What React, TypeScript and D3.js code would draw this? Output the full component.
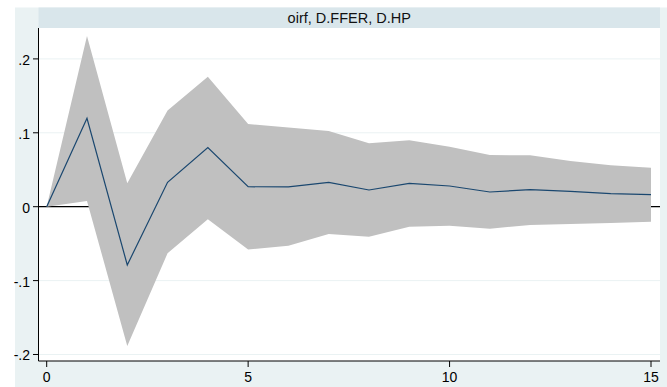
import React from 'react';
import * as d3 from 'd3';

// impulse response: oirf, D.FFER -> D.HP, with 95% CI
const steps = [0, 1, 2, 3, 4, 5, 6, 7, 8, 9, 10, 11, 12, 13, 14, 15];
const oirf = [0, 0.1196, -0.0789, 0.033, 0.08, 0.027, 0.0267, 0.033, 0.0226, 0.0316, 0.028, 0.0199, 0.023, 0.0208, 0.0176, 0.0162];
const upper = [0, 0.231, 0.0316, 0.13, 0.176, 0.112, 0.107, 0.1024, 0.0858, 0.0898, 0.0812, 0.07, 0.0695, 0.0618, 0.056, 0.0528];
const lower = [0, 0.0077, -0.1885, -0.063, -0.017, -0.058, -0.053, -0.037, -0.0406, -0.027, -0.0257, -0.0298, -0.0248, -0.0234, -0.022, -0.0203];

const yTicks = [0.2, 0.1, 0, -0.1, -0.2];
const yTickLabels = ['.2', '.1', '0', '-.1', '-.2'];
const xTicks = [0, 5, 10, 15];
const title = 'oirf, D.FFER, D.HP';

const W = 667;
const H = 387;
const plot = { left: 38.5, right: 660, top: 28, bottom: 361 };
const font = '"Liberation Sans", Arial, Helvetica, sans-serif';

const App: React.FC = () => {
  const x = d3.scaleLinear().domain([0, 15]).range([46.7, 651]);
  const y = d3.scaleLinear().domain([-0.2088, 0.2418]).range([plot.bottom, plot.top]);

  const rows = steps.map((s, i) => ({ s, v: oirf[i], lo: lower[i], hi: upper[i] }));

  const band = d3.area<typeof rows[0]>()
    .x(d => x(d.s))
    .y0(d => y(d.lo))
    .y1(d => y(d.hi));

  const line = d3.line<typeof rows[0]>()
    .x(d => x(d.s))
    .y(d => y(d.v));

  return (
    <svg width={W} height={H} style={{ position: 'absolute', left: 0, top: 0, display: 'block' }}>
      <rect x={0} y={0} width={W} height={H} fill="#ffffff" />
      {/* graph region */}
      <rect x={15} y={7.5} width={W - 15} height={H - 7.5} fill="#eaf2f3" />
      {/* plot region */}
      <rect x={plot.left} y={plot.top} width={plot.right - plot.left} height={plot.bottom - plot.top} fill="#ffffff" />
      {/* title band */}
      <rect x={plot.left} y={7.5} width={plot.right - plot.left} height={plot.top - 7.5} fill="#d9e6eb" />
      <text x={(plot.left + plot.right) / 2} y={22.7} textAnchor="middle" fontFamily={font} fontSize={14.5} fill="#111">
        {title}
      </text>

      {/* grid */}
      {yTicks.map(t => (
        <line key={'g' + t} x1={plot.left} x2={plot.right} y1={y(t)} y2={y(t)} stroke="#eaf2f3" strokeWidth={1} />
      ))}

      {/* zero reference line */}
      <line x1={plot.left} x2={plot.right} y1={y(0)} y2={y(0)} stroke="#000" strokeWidth={1.2} />

      {/* confidence band */}
      <path d={band(rows) || ''} fill="#c0c0c0" />
      {/* irf */}
      <path d={line(rows) || ''} fill="none" stroke="#1a476f" strokeWidth={1.2} />

      {/* axes */}
      <line x1={plot.left} x2={plot.left} y1={plot.top} y2={plot.bottom} stroke="#000" strokeWidth={1} />
      <line x1={plot.left} x2={plot.right} y1={plot.bottom} y2={plot.bottom} stroke="#000" strokeWidth={1} />

      {yTicks.map((t, i) => (
        <g key={'y' + t}>
          <line x1={plot.left - 5.5} x2={plot.left} y1={y(t)} y2={y(t)} stroke="#000" strokeWidth={1} />
          <text x={30} y={y(t) + 6} textAnchor="end" fontFamily={font} fontSize={14} fill="#000">
            {yTickLabels[i]}
          </text>
        </g>
      ))}

      {xTicks.map(t => (
        <g key={'x' + t}>
          <line x1={x(t)} x2={x(t)} y1={plot.bottom} y2={plot.bottom + 6} stroke="#000" strokeWidth={1} />
          <text x={x(t)} y={381.5} textAnchor="middle" fontFamily={font} fontSize={14} fill="#000">
            {t}
          </text>
        </g>
      ))}
    </svg>
  );
};

export default App;
